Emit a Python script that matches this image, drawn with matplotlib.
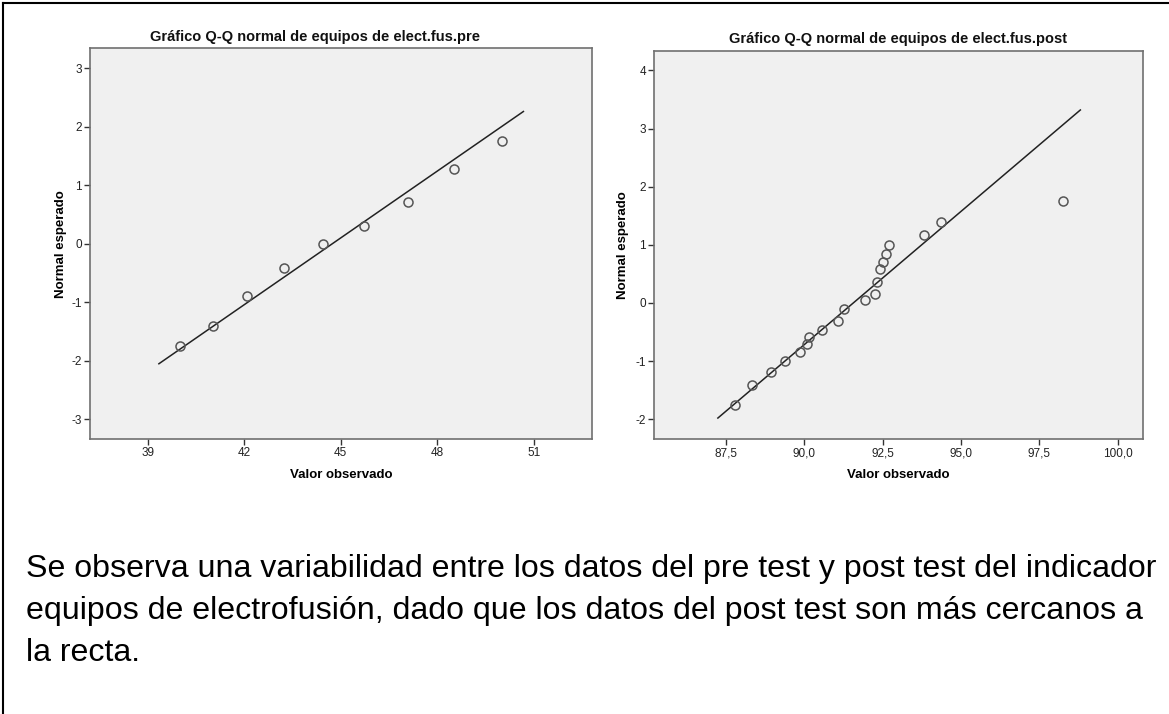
import matplotlib.pyplot as plt
from matplotlib.lines import Line2D

# datos
pre_obs = [40.0, 41.04, 42.10, 43.25, 44.44, 45.72, 47.08, 48.51, 50.02]
pre_esp = [-1.74, -1.40, -0.90, -0.41, 0.0, 0.30, 0.71, 1.28, 1.75]
pre_linea_x = [39.35, 50.68]
pre_linea_y = [-2.05, 2.26]
pre_xticks = [39, 42, 45, 48, 51]
pre_yticks = [-3, -2, -1, 0, 1, 2, 3]

post_obs = [87.78, 88.34, 88.94, 89.39, 89.85, 90.10, 90.15, 90.55, 91.09, 91.25,
            91.95, 92.26, 92.31, 92.40, 92.50, 92.61, 92.70, 93.81, 94.36, 98.27]
post_esp = [-1.75, -1.41, -1.18, -1.00, -0.85, -0.71, -0.58, -0.47, -0.31, -0.10,
            0.05, 0.15, 0.36, 0.58, 0.70, 0.84, 0.99, 1.17, 1.40, 1.75]
post_linea_x = [87.24, 98.81]
post_linea_y = [-1.98, 3.32]
post_xticks = [87.5, 90.0, 92.5, 95.0, 97.5, 100.0]
post_xlabels = ['87,5', '90,0', '92,5', '95,0', '97,5', '100,0']
post_yticks = [-2, -1, 0, 1, 2, 3, 4]

titulos = ['Gráfico Q-Q normal de equipos de elect.fus.pre',
           'Gráfico Q-Q normal de equipos de elect.fus.post']
texto = ['Se observa una variabilidad entre los datos del pre test y post test del indicador',
         'equipos de electrofusión, dado que los datos del post test son más cercanos a',
         'la recta.']

plt.rcParams['font.family'] = ['Liberation Sans', 'DejaVu Sans']
plt.rcParams['axes.unicode_minus'] = False

fig = plt.figure(figsize=(11.69, 7.14), dpi=100)

ax1 = fig.add_axes([0.0773, 0.3856, 0.4288, 0.5468])
ax2 = fig.add_axes([0.5597, 0.3852, 0.4178, 0.5430])


def estilo(ax):
    ax.set_facecolor('#f0f0f0')
    for s in ['top', 'right', 'left', 'bottom']:
        ax.spines[s].set_color('#707070')
        ax.spines[s].set_linewidth(1.2)
    ax.tick_params(direction='out', length=4, width=1, color='#333333',
                   labelsize=8.5, labelcolor='#222222', pad=2)


ax1.plot(pre_linea_x, pre_linea_y, color='#222222', linewidth=1.1)
ax1.plot(pre_obs, pre_esp, 'o', markersize=6.5, markerfacecolor='none',
         markeredgecolor='#555555', markeredgewidth=1.1)
ax1.set_xlim(37.22, 52.80)
ax1.set_ylim(-3.33, 3.34)
ax1.set_xticks(pre_xticks)
ax1.set_yticks(pre_yticks)
estilo(ax1)

ax2.plot(post_linea_x, post_linea_y, color='#222222', linewidth=1.1)
ax2.plot(post_obs, post_esp, 'o', markersize=6.5, markerfacecolor='none',
         markeredgecolor='#555555', markeredgewidth=1.1)
ax2.set_xlim(85.21, 100.8)
ax2.set_ylim(-2.34, 4.33)
ax2.set_xticks(post_xticks)
ax2.set_xticklabels(post_xlabels)
ax2.set_yticks(post_yticks)
estilo(ax2)

# titulos y etiquetas de ejes
fig.text(315 / 1169, 1 - 37 / 714, titulos[0], ha='center', va='center',
         fontsize=10.5, fontweight='semibold', color='#111111')
fig.text(898 / 1169, 1 - 39 / 714, titulos[1], ha='center', va='center',
         fontsize=10.5, fontweight='semibold', color='#111111')
fig.text(341 / 1169, 1 - 475 / 714, 'Valor observado', ha='center', va='center',
         fontsize=9.5, fontweight='bold')
fig.text(898 / 1169, 1 - 475 / 714, 'Valor observado', ha='center', va='center',
         fontsize=9.5, fontweight='bold')
fig.text(61 / 1169, 1 - 244 / 714, 'Normal esperado', ha='center', va='center',
         rotation=90, fontsize=9.5, fontweight='bold')
fig.text(623 / 1169, 1 - 245 / 714, 'Normal esperado', ha='center', va='center',
         rotation=90, fontsize=9.5, fontweight='bold')

# texto inferior
for i, linea in enumerate(texto):
    fig.text(26 / 1169, 1 - (569 + 42 * i) / 714, linea, ha='left', va='center',
             fontsize=23.1, color='black')

# marco del documento (arriba e izquierda)
fig.add_artist(Line2D([2.5 / 1169, 2.5 / 1169], [0, 1 - 2.5 / 714],
                      color='black', linewidth=1.5, transform=fig.transFigure))
fig.add_artist(Line2D([2.5 / 1169, 1], [1 - 2.5 / 714, 1 - 2.5 / 714],
                      color='black', linewidth=1.5, transform=fig.transFigure))

plt.savefig('out.png', dpi=100)
